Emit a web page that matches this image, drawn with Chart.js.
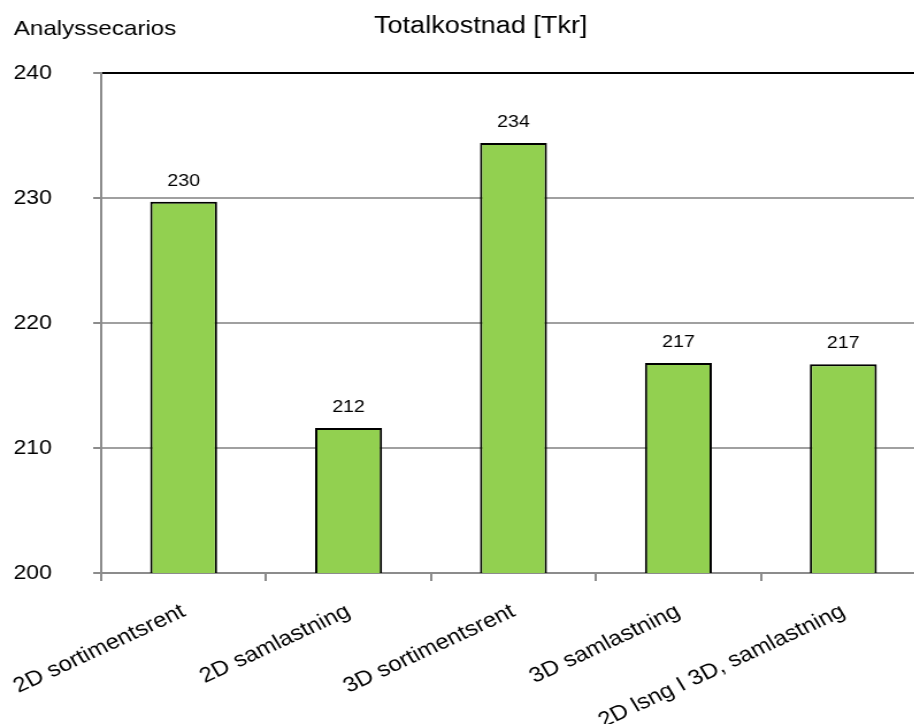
<!DOCTYPE html>
<html>
<head>
<meta charset="utf-8">
<script src="https://cdn.jsdelivr.net/npm/chart.js@4.4.1/dist/chart.umd.min.js"></script>
<style>
  html, body { margin: 0; padding: 0; background: #fff; overflow: hidden; width: 914px; height: 724px; }
  #wrap { position: absolute; left: 0; top: 0; width: 806px; height: 724px; transform: scaleX(1.15); transform-origin: 0 0; }
  canvas { display: block; }
</style>
</head>
<body>
<div id="wrap"><canvas id="c" width="806" height="724"></canvas></div>
<script>
// Scenarios and their total cost (thousand SEK)
const categories = ['2D sortimentsrent', '2D samlastning', '3D sortimentsrent', '3D samlastning', '2D lsng I 3D, samlastning'];
const totalCost = [229.7, 211.6, 234.4, 216.8, 216.7];
const yTicks = [200, 210, 220, 230, 240];
const chartTitle = 'Totalkostnad [Tkr]';
const axisCaption = 'Analyssecarios';

const FONT = '"Liberation Sans", Arial, sans-serif';
const AXIS_GREY = '#8c8c8c';
const GRID_GREY = '#a0a0a0';

// Value labels above the bars
const valueLabels = {
  id: 'valueLabels',
  afterDatasetsDraw(chart) {
    const ctx = chart.ctx;
    const meta = chart.getDatasetMeta(0);
    ctx.save();
    ctx.font = '17px ' + FONT;
    ctx.fillStyle = '#000';
    ctx.textAlign = 'center';
    ctx.textBaseline = 'alphabetic';
    meta.data.forEach((bar, i) => {
      ctx.fillText(String(Math.round(totalCost[i])), bar.x, bar.y - 16);
    });
    ctx.restore();
  }
};

// Heading texts and white background
const headings = {
  id: 'headings',
  beforeDraw(chart) {
    const ctx = chart.ctx;
    ctx.save();
    ctx.fillStyle = '#fff';
    ctx.fillRect(0, 0, chart.width, chart.height);
    ctx.restore();
  },
  afterDraw(chart) {
    const ctx = chart.ctx;
    ctx.save();
    ctx.fillStyle = '#000';
    ctx.textBaseline = 'alphabetic';
    ctx.font = '23.5px ' + FONT;
    ctx.textAlign = 'center';
    ctx.fillText(chartTitle, 418, 33);
    ctx.font = '21px ' + FONT;
    ctx.textAlign = 'left';
    ctx.fillText(axisCaption, 12, 35);
    ctx.restore();
  }
};

new Chart(document.getElementById('c'), {
  type: 'bar',
  data: {
    labels: categories,
    datasets: [{
      data: totalCost,
      backgroundColor: '#92d050',
      borderColor: '#000',
      borderWidth: 2,
      borderSkipped: 'start',
      barPercentage: 0.406,
      categoryPercentage: 1.0
    }]
  },
  options: {
    responsive: false,
    devicePixelRatio: 1,
    animation: false,
    layout: { padding: { top: 73, left: 0, right: 1, bottom: 0 } },
    plugins: { legend: { display: false }, title: { display: false }, tooltip: { enabled: false } },
    scales: {
      x: {
        type: 'category',
        offset: true,
        grid: { offset: true, drawOnChartArea: false, drawTicks: true, tickLength: 8, color: AXIS_GREY, lineWidth: 2 },
        border: { color: AXIS_GREY, width: 2 },
        ticks: {
          autoSkip: false,
          minRotation: 28,
          maxRotation: 28,
          padding: 18,
          color: '#000',
          font: { family: FONT, size: 21 }
        },
        afterFit(scale) {
          scale.height = 151;
          scale.paddingLeft = 0;
          scale.paddingRight = 0;
        }
      },
      y: {
        min: 200,
        max: 240,
        ticks: {
          stepSize: 10,
          padding: 36,
          color: '#000',
          font: { family: FONT, size: 20 }
        },
        afterBuildTicks(scale) {
          scale.ticks = yTicks.map(v => ({ value: v }));
        },
        grid: {
          color: (c) => (c.tick && c.tick.value === 240 ? '#000' : GRID_GREY),
          tickColor: AXIS_GREY,
          lineWidth: 2,
          tickLength: 7,
          drawTicks: true
        },
        border: { color: AXIS_GREY, width: 2 },
        afterFit(scale) {
          scale.width = 88;
          scale.paddingTop = 0;
          scale.paddingBottom = 0;
        }
      }
    }
  },
  plugins: [headings, valueLabels]
});
</script>
</body>
</html>
